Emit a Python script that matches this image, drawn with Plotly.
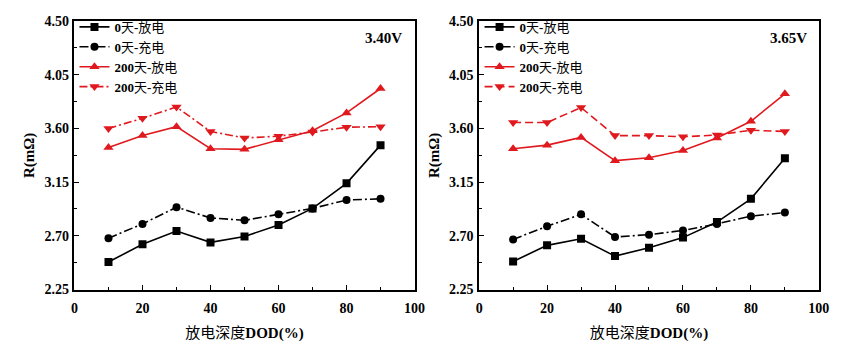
import plotly.graph_objects as go

# Depth of discharge (%)
dod = [10, 20, 30, 40, 50, 60, 70, 80, 90]

# Internal resistance (mΩ) at 3.40 V
dis0_340 = [2.48, 2.63, 2.74, 2.645, 2.695, 2.79, 2.93, 3.14, 3.46]
chg0_340 = [2.68, 2.80, 2.94, 2.85, 2.83, 2.88, 2.93, 3.00, 3.01]
dis200_340 = [3.44, 3.54, 3.615, 3.43, 3.425, 3.505, 3.58, 3.73, 3.935]
chg200_340 = [3.60, 3.685, 3.78, 3.575, 3.52, 3.535, 3.57, 3.61, 3.615]

# Internal resistance (mΩ) at 3.65 V
dis0_365 = [2.485, 2.62, 2.675, 2.53, 2.60, 2.685, 2.815, 3.01, 3.35]
chg0_365 = [2.67, 2.78, 2.88, 2.69, 2.71, 2.745, 2.80, 2.865, 2.895]
dis200_365 = [3.43, 3.46, 3.525, 3.33, 3.355, 3.415, 3.52, 3.66, 3.89]
chg200_365 = [3.65, 3.65, 3.775, 3.54, 3.54, 3.53, 3.545, 3.585, 3.575]

names = ["<b>0</b>天<b>-</b>放电", "<b>0</b>天<b>-</b>充电",
         "<b>200</b>天<b>-</b>放电", "<b>200</b>天<b>-</b>充电"]
y_ticks = [2.25, 2.70, 3.15, 3.60, 4.05, 4.50]
x_ticks = [0, 20, 40, 60, 80, 100]
voltages = ["3.40V", "3.65V"]

BLACK = "#000000"
RED = "#e0191e"
FONT = "Liberation Serif, Noto Sans CJK SC, serif"

fig = go.Figure()

panels = [
    (dict(xaxis="x", yaxis="y", legend="legend"),
     [dis0_340, chg0_340, dis200_340, chg200_340], "8px,3px,2px,3px"),
    (dict(xaxis="x2", yaxis="y2", legend="legend2"),
     [dis0_365, chg0_365, dis200_365, chg200_365], "8px,4px"),
]

for refs, series, red_charge_dash in panels:
    styles = [
        (BLACK, "solid", "square", 8),
        (BLACK, "9px,3px,2px,3px", "circle", 8),
        (RED, "solid", "triangle-up", 9),
        (RED, red_charge_dash, "triangle-down", 9),
    ]
    for name, vals, (col, dash, sym, size) in zip(names, series, styles):
        fig.add_trace(go.Scatter(
            x=dod, y=vals, name=name, mode="lines+markers",
            line=dict(color=col, width=1.6, dash=dash),
            marker=dict(symbol=sym, size=size, color=col),
            **refs,
        ))

x_domains = [[0.084, 0.4836], [0.5595, 0.9587]]
y_domain = [0.1465, 0.9575]

axis_common = dict(
    showline=True, linecolor="black", linewidth=1.6, mirror=True,
    ticks="inside", ticklen=5, tickwidth=1.2, tickcolor="black",
    showgrid=False, zeroline=False,
    tickfont=dict(family=FONT, size=14, color="black"),
)

for i, suffix in enumerate(["", "2"]):
    fig.layout["xaxis" + suffix] = dict(
        domain=x_domains[i], range=[0, 100], tickvals=x_ticks,
        ticktext=[f"<b>{v}</b>" for v in x_ticks],
        ticklabelstandoff=5,
        minor=dict(ticks="inside", ticklen=3, tickwidth=1.2, tickcolor="black",
                   tickvals=[10, 30, 50, 70, 90]),
        title=dict(text="放电深度<b>DOD(%)</b>", standoff=12,
                   font=dict(family=FONT, size=15, color="black")),
        anchor="y" + suffix,
        **axis_common,
    )
    fig.layout["yaxis" + suffix] = dict(
        domain=y_domain, range=[2.25, 4.50], tickvals=y_ticks,
        ticktext=[f"<b>{v:.2f}</b>" for v in y_ticks],
        ticklabelstandoff=1,
        minor=dict(ticks="inside", ticklen=3, tickwidth=1.2, tickcolor="black",
                   tickvals=[2.475, 2.925, 3.375, 3.825, 4.275]),
        title=dict(text="<b>R(mΩ)</b>", standoff=6,
                   font=dict(family=FONT, size=15, color="black")),
        anchor="x" + suffix,
        **axis_common,
    )

legend_common = dict(
    xanchor="left", yanchor="top", bgcolor="rgba(0,0,0,0)",
    font=dict(family=FONT, size=13, color="black"),
    itemwidth=30, tracegroupgap=0,
)
fig.layout.legend = dict(x=0.084, y=0.985, **legend_common)
fig.layout.legend2 = dict(x=0.560, y=0.985, **legend_common)

for xd, label in zip(x_domains, voltages):
    fig.add_annotation(
        x=xd[1] - 0.012, y=0.905, xref="paper", yref="paper",
        xanchor="right", yanchor="middle", showarrow=False,
        text=f"<b>{label}</b>",
        font=dict(family=FONT, size=15, color="black"),
    )

fig.update_layout(
    width=865, height=346,
    margin=dict(l=0, r=0, t=0, b=0),
    paper_bgcolor="white", plot_bgcolor="white",
    showlegend=True,
)

fig.write_html("out.html")
